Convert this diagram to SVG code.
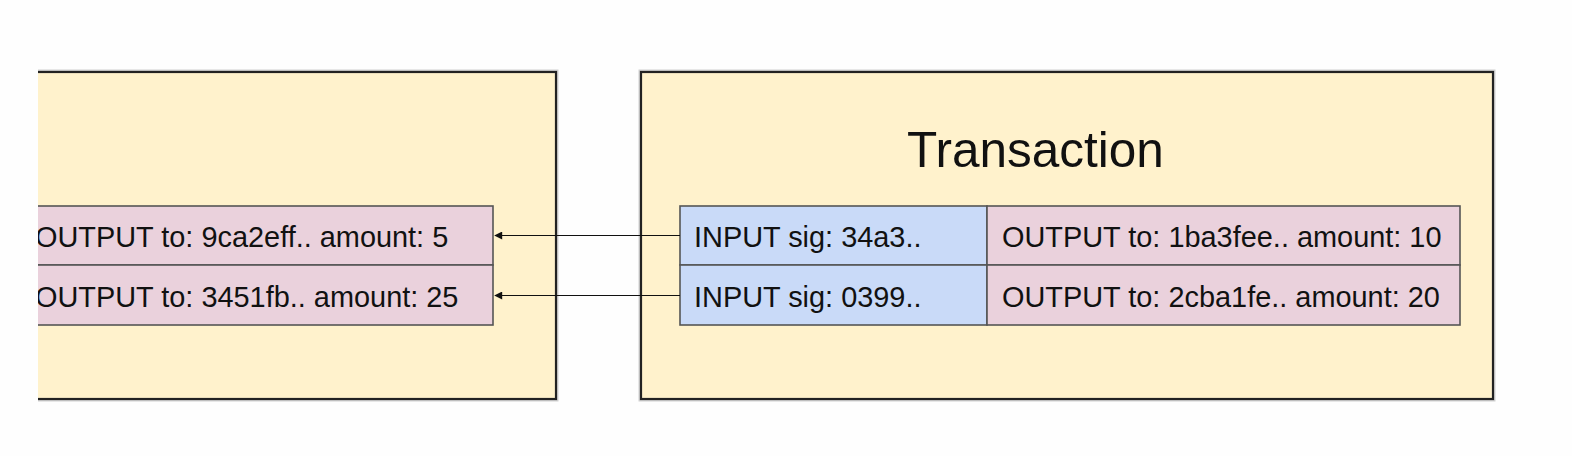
<svg xmlns="http://www.w3.org/2000/svg" width="1572" height="456" viewBox="0 0 1572 456">
<style>
.box{fill:#fff2cc;stroke:#222;stroke-width:2.2}
.halo{fill:none;stroke:#000;stroke-opacity:0.18;stroke-width:5}
.out{fill:#ead1dc;stroke:#555;stroke-width:1.6}
.in{fill:#c9daf8;stroke:#555;stroke-width:1.6}
.t{font-family:"Liberation Sans",Arial,sans-serif;font-size:28.9px;fill:#111}
.title{font-family:"Liberation Sans",Arial,sans-serif;font-size:49.5px;fill:#111}
.conn{stroke:#111;stroke-width:1.2;fill:none}
</style>
<defs>
<clipPath id="clipL"><rect x="38" y="0" width="1534" height="456"/></clipPath>
<marker id="ah" viewBox="0 0 10 10" refX="9" refY="5" markerWidth="9" markerHeight="8" markerUnits="userSpaceOnUse" orient="auto-start-reverse">
<path d="M0,0 L10,5 L0,10 z" fill="#111"/>
</marker>
</defs>
<rect width="1572" height="456" fill="#fefefe"/>
<g id="prev-tx" clip-path="url(#clipL)">
<rect class="halo" x="10" y="72" width="546" height="327"/>
<rect class="box" x="10" y="72" width="546" height="327"/>
<rect class="out" x="10" y="206" width="483" height="59"/>
<rect class="out" x="10" y="265" width="483" height="60"/>
<text class="t" x="35" y="246.5">OUTPUT to: 9ca2eff.. amount: 5</text>
<text class="t" x="35" y="306.5">OUTPUT to: 3451fb.. amount: 25</text>
</g>
<g id="tx">
<rect class="halo" x="641" y="72" width="852" height="327"/>
<rect class="box" x="641" y="72" width="852" height="327"/>
<text class="title" x="907" y="166.5">Transaction</text>
<rect class="in" x="680" y="206" width="307" height="59"/>
<rect class="in" x="680" y="265" width="307" height="60"/>
<rect class="out" x="987" y="206" width="473" height="59"/>
<rect class="out" x="987" y="265" width="473" height="60"/>
<text class="t" x="694" y="246.5">INPUT sig: 34a3..</text>
<text class="t" x="694" y="306.5">INPUT sig: 0399..</text>
<text class="t" x="1002" y="246.5">OUTPUT to: 1ba3fee.. amount: 10</text>
<text class="t" x="1002" y="306.5">OUTPUT to: 2cba1fe.. amount: 20</text>
</g>
<g id="connectors">
<line class="conn" x1="680" y1="235.5" x2="495" y2="235.5" marker-end="url(#ah)"/>
<line class="conn" x1="680" y1="295.5" x2="495" y2="295.5" marker-end="url(#ah)"/>
</g>
</svg>
